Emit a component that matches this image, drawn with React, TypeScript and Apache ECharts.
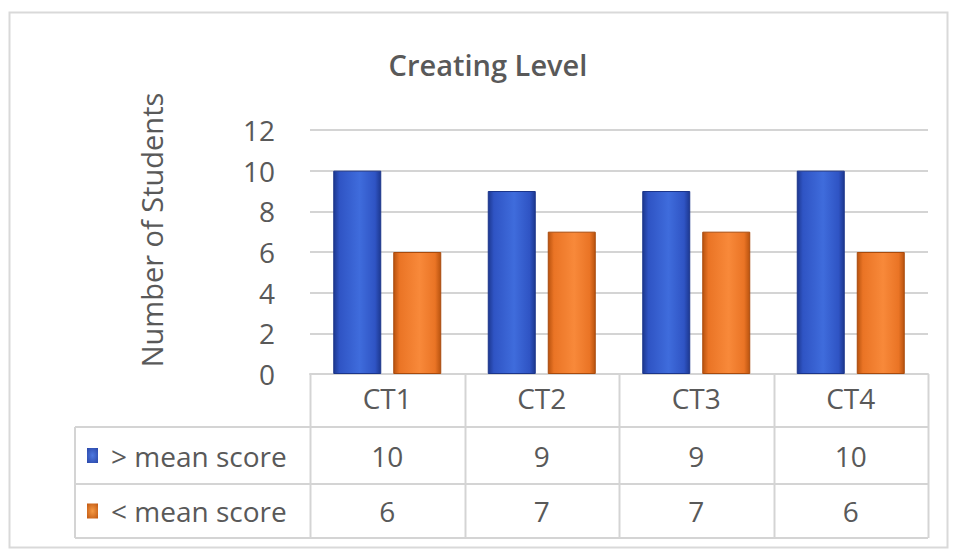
import React, { useEffect, useRef } from "react";
import * as echarts from "echarts";

const categories = ["CT1", "CT2", "CT3", "CT4"];
const seriesNames = ["> mean score", "< mean score"];
const aboveMean = [10, 9, 9, 10];
const belowMean = [6, 7, 7, 6];
const yTicks = [0, 2, 4, 6, 8, 10, 12];
const yAxisTitle = "Number of Students";

const FONT = "'Open Sans', 'Noto Sans', sans-serif";
const TXT = "#595959";
const LINE = "#d4d4d4";
const FS = 28;

const GRID_LEFT = 310;
const GRID_RIGHT_X = 928;
const GRID_TOP = 130;
const AXIS_Y = 374;
const ROW_Y = [374, 427, 484, 538];
const TABLE_LEFT = 75;

function barGrad(edge: string, mid: string, hi: string) {
  return new echarts.graphic.LinearGradient(1, 0, 0, 0, [
    { offset: 0, color: edge },
    { offset: 0.12, color: mid },
    { offset: 0.45, color: hi },
    { offset: 0.88, color: mid },
    { offset: 1, color: edge },
  ]);
}

export default function App() {
  const ref = useRef<HTMLDivElement>(null);
  useEffect(() => {
    if (!ref.current) return;
    const chart = echarts.init(ref.current, undefined, { renderer: "svg" });
    const W = 955;
    const H = 551;
    const colW = (GRID_RIGHT_X - GRID_LEFT) / categories.length;
    const values = [aboveMean, belowMean];
    const keyColors = [
      ["#2a47a8", "#4d78e0"],
      ["#c0560f", "#f59a45"],
    ];

    const graphics: any[] = [];
    graphics.push({
      type: "rect",
      shape: { x: 9.5, y: 12.5, width: 938, height: 535 },
      style: { fill: "none", stroke: "#d9d9d9", lineWidth: 2 },
      silent: true,
    });
    graphics.push({
      type: "text",
      x: 151,
      y: 230,
      rotation: Math.PI / 2,
      style: {
        text: yAxisTitle,
        font: `29px ${FONT}`,
        fill: TXT,
        textAlign: "center",
        textVerticalAlign: "middle",
      },
      silent: true,
    });
    for (let i = 0; i <= categories.length; i++) {
      const x = Math.round(GRID_LEFT + i * colW) + 0.5;
      graphics.push({
        type: "line",
        shape: { x1: x, y1: ROW_Y[0], x2: x, y2: ROW_Y[3] },
        style: { stroke: LINE, lineWidth: 2 },
        silent: true,
      });
    }
    graphics.push({
      type: "line",
      shape: { x1: TABLE_LEFT, y1: ROW_Y[1], x2: TABLE_LEFT, y2: ROW_Y[3] },
      style: { stroke: LINE, lineWidth: 2 },
      silent: true,
    });
    for (let r = 1; r < ROW_Y.length; r++) {
      graphics.push({
        type: "line",
        shape: { x1: TABLE_LEFT, y1: ROW_Y[r], x2: GRID_RIGHT_X, y2: ROW_Y[r] },
        style: { stroke: LINE, lineWidth: 2 },
        silent: true,
      });
    }
    for (let s = 0; s < seriesNames.length; s++) {
      const cy = (ROW_Y[s + 1] + ROW_Y[s + 2]) / 2;
      graphics.push({
        type: "rect",
        shape: { x: 87, y: cy - 7.5, width: 11, height: 15 },
        style: {
          fill: new echarts.graphic.RadialGradient(0.5, 0.5, 0.7, [
            { offset: 0, color: keyColors[s][1] },
            { offset: 1, color: keyColors[s][0] },
          ]),
        },
        silent: true,
      });
      graphics.push({
        type: "text",
        x: 111,
        y: cy,
        style: {
          text: seriesNames[s],
          font: `${FS}px ${FONT}`,
          fill: TXT,
          textVerticalAlign: "middle",
          textAlign: "left",
        },
        silent: true,
      });
      for (let c = 0; c < categories.length; c++) {
        graphics.push({
          type: "text",
          x: GRID_LEFT + (c + 0.5) * colW,
          y: cy,
          style: {
            text: String(values[s][c]),
            font: `${FS}px ${FONT}`,
            fill: TXT,
            textVerticalAlign: "middle",
            textAlign: "center",
          },
          silent: true,
        });
      }
    }

    chart.setOption({
      animation: false,
      backgroundColor: "#ffffff",
      title: {
        text: "Creating Level",
        left: 483,
        top: 45,
        textAlign: "center",
        textStyle: {
          fontFamily: FONT,
          fontSize: 29,
          fontWeight: 600,
          color: TXT,
        },
      },
      grid: {
        left: GRID_LEFT,
        right: W - GRID_RIGHT_X,
        top: GRID_TOP,
        bottom: H - AXIS_Y,
        containLabel: false,
      },
      xAxis: {
        type: "category",
        data: categories,
        axisLine: { show: true, lineStyle: { color: LINE, width: 2 } },
        axisTick: { show: false },
        axisLabel: {
          margin: 10,
          fontFamily: FONT,
          fontSize: FS,
          color: TXT,
        },
      },
      yAxis: {
        type: "value",
        min: yTicks[0],
        max: yTicks[yTicks.length - 1],
        interval: 2,
        axisLine: { show: false },
        axisTick: { show: false },
        axisLabel: {
          margin: 35,
          fontFamily: FONT,
          fontSize: FS,
          color: TXT,
        },
        splitLine: { lineStyle: { color: LINE, width: 2 } },
      },
      series: [
        {
          name: seriesNames[0],
          type: "bar",
          data: aboveMean,
          barWidth: 48,
          barGap: "25%",
          itemStyle: {
            color: barGrad("#1d3890", "#2f54c4", "#3f6cdc"),
            borderColor: "#1b358a",
            borderWidth: 1,
          },
        },
        {
          name: seriesNames[1],
          type: "bar",
          data: belowMean,
          barWidth: 48,
          barGap: "25%",
          itemStyle: {
            color: barGrad("#b9530f", "#ea7425", "#f8893a"),
            borderColor: "#a84a0c",
            borderWidth: 1,
          },
        },
      ],
      graphic: graphics,
    });
    return () => chart.dispose();
  }, []);
  return <div ref={ref} style={{ width: 955, height: 551, position: "absolute", left: 0, top: 0 }} />;
}
